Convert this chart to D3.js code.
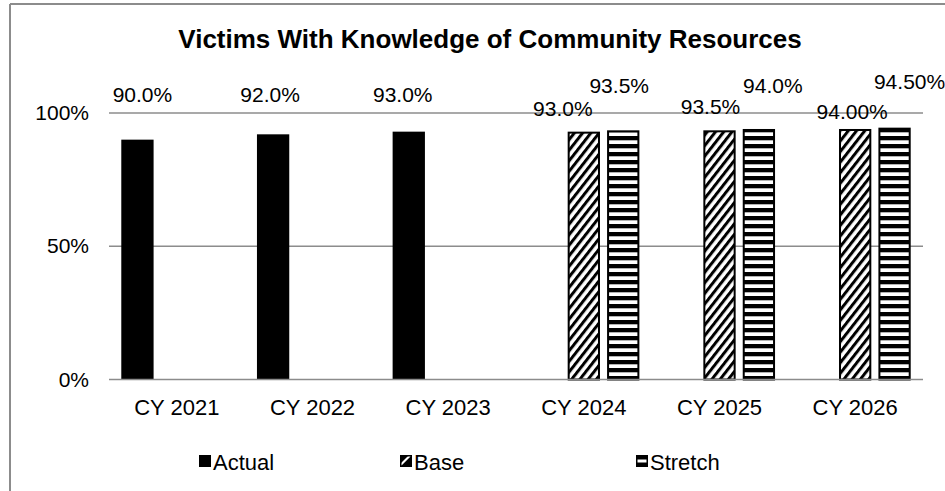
<!DOCTYPE html>
<html>
<head>
<meta charset="utf-8">
<script src="https://cdn.jsdelivr.net/npm/d3@7"></script>
<style>
  html, body { margin: 0; padding: 0; background: #fff; }
  svg { display: block; font-family: "Liberation Sans", Arial, sans-serif; }
</style>
</head>
<body>
<script>
// ---- data ----
const categories = ["CY 2021", "CY 2022", "CY 2023", "CY 2024", "CY 2025", "CY 2026"];
const seriesNames = ["Actual", "Base", "Stretch"];
const actualValues  = [90.0, 92.0, 93.0, null, null, null];
const baseValues    = [null, null, null, 93.0, 93.5, 94.0];
const stretchValues = [null, null, null, 93.5, 94.0, 94.5];
const actualDecimals  = [1, 1, 1, null, null, null];
const baseDecimals    = [null, null, null, 1, 1, 2];
const stretchDecimals = [null, null, null, 1, 1, 2];
const yTicks = [0, 50, 100];
const title = "Victims With Knowledge of Community Resources";

// label nudges (layout only): [dx, dy] from bar top-center, per series per category
const actualNudge  = [[5, -38], [-3, -32], [-6, -30], null, null, null];
const baseNudge    = [null, null, null, [-21, -16], [-9, -16], [-3, -10]];
const stretchNudge = [null, null, null, [-4, -37], [14, -36], [15, -39]];

const W = 945, H = 491;
const svg = d3.select("body").append("svg").attr("width", W).attr("height", H);

const defs = svg.append("defs");
const diag = defs.append("pattern").attr("id", "diag")
  .attr("patternUnits", "userSpaceOnUse").attr("width", 6.5).attr("height", 6.5)
  .attr("patternTransform", "rotate(38)");
diag.append("rect").attr("width", 6.5).attr("height", 6.5).attr("fill", "#fff");
diag.append("rect").attr("width", 3).attr("height", 6.5).attr("fill", "#000");

const horiz = defs.append("pattern").attr("id", "horiz")
  .attr("patternUnits", "userSpaceOnUse").attr("width", 8).attr("height", 8);
horiz.append("rect").attr("width", 8).attr("height", 8).attr("fill", "#fff");
horiz.append("rect").attr("y", 0).attr("width", 8).attr("height", 4.3).attr("fill", "#000");

const fills = { Actual: "#000", Base: "url(#diag)", Stretch: "url(#horiz)" };

// chart frame (partially visible)
svg.append("line").attr("x1", 10).attr("x2", 10).attr("y1", 4).attr("y2", H)
  .attr("stroke", "#8c8c8c").attr("stroke-width", 2);
svg.append("line").attr("x1", 10).attr("x2", W).attr("y1", 4).attr("y2", 4)
  .attr("stroke", "#8c8c8c").attr("stroke-width", 2);

// title
svg.append("text").attr("x", 490).attr("y", 48).attr("text-anchor", "middle")
  .attr("font-size", 26).attr("font-weight", "bold").attr("fill", "#000").text(title);

// scales
const x0 = d3.scaleBand().domain(categories).range([109, 923]).paddingInner(0).paddingOuter(0);
const x1 = d3.scaleBand().domain(seriesNames).range([0, x0.bandwidth()])
  .paddingInner(0.18).paddingOuter(0.312);
const y = d3.scaleLinear().domain([0, 100]).range([379.5, 113]);

// gridlines
svg.append("g").selectAll("line").data(yTicks.filter(t => t !== 0)).join("line")
  .attr("x1", 109).attr("x2", 923)
  .attr("y1", d => y(d)).attr("y2", d => y(d))
  .attr("stroke", "#8c8c8c").attr("stroke-width", 1.5);

// y axis labels
const yAxis = d3.axisLeft(y).tickValues(yTicks).tickFormat(d => d + "%").tickSize(0).tickPadding(20);
const gy = svg.append("g").attr("transform", "translate(109,0)").call(yAxis);
gy.select(".domain").remove();
gy.selectAll("text").attr("font-size", 21).attr("fill", "#000")
  .attr("font-family", "Liberation Sans, Arial, sans-serif");

// bars
const series = [
  { name: "Actual", values: actualValues, dec: actualDecimals, nudge: actualNudge },
  { name: "Base", values: baseValues, dec: baseDecimals, nudge: baseNudge },
  { name: "Stretch", values: stretchValues, dec: stretchDecimals, nudge: stretchNudge }
];
const barData = [];
series.forEach(s => s.values.forEach((v, i) => {
  if (v != null) barData.push({ s: s.name, cat: categories[i], v, dec: s.dec[i], nudge: s.nudge[i] });
}));

svg.append("g").selectAll("rect").data(barData).join("rect")
  .attr("x", d => x0(d.cat) + x1(d.s) + (d.s === "Actual" ? 0 : 1))
  .attr("width", d => x1.bandwidth() - (d.s === "Actual" ? 0 : 2))
  .attr("y", d => y(d.v) + (d.s === "Actual" ? 0 : 1))
  .attr("height", d => y(0) - y(d.v) - (d.s === "Actual" ? 0 : 1))
  .attr("fill", d => fills[d.s])
  .attr("stroke", d => d.s === "Actual" ? "none" : "#000")
  .attr("stroke-width", 2);

// x axis line
svg.append("line").attr("x1", 109).attr("x2", 923).attr("y1", y(0)).attr("y2", y(0))
  .attr("stroke", "#8c8c8c").attr("stroke-width", 1.5);

// x axis labels
const xAxis = d3.axisBottom(x0).tickSize(0).tickPadding(20);
const gx = svg.append("g").attr("transform", `translate(0,${y(0)})`).call(xAxis);
gx.select(".domain").remove();
gx.selectAll("text").attr("font-size", 22).attr("fill", "#000")
  .attr("font-family", "Liberation Sans, Arial, sans-serif");

// data labels
svg.append("g").selectAll("text").data(barData).join("text")
  .attr("x", d => x0(d.cat) + x1(d.s) + x1.bandwidth() / 2 + d.nudge[0])
  .attr("y", d => y(d.v) + d.nudge[1])
  .attr("text-anchor", "middle").attr("font-size", 21).attr("fill", "#000")
  .text(d => d.v.toFixed(d.dec) + "%");

// legend
const legendX = [199, 400, 636];
const lg = svg.append("g");
seriesNames.forEach((name, i) => {
  const g = lg.append("g").attr("transform", `translate(${legendX[i]},455)`);
  if (name === "Actual") {
    g.append("rect").attr("width", 12).attr("height", 12).attr("fill", "#000");
  } else if (name === "Base") {
    g.append("rect").attr("x", 0.75).attr("y", 0.75).attr("width", 10.5).attr("height", 10.5)
      .attr("fill", "#fff").attr("stroke", "#000").attr("stroke-width", 1.5);
    g.append("path").attr("d", "M1,11 L11,11 L11,1 Z M1,8 L8,1 L1,1 Z").attr("fill", "#000");
  } else {
    g.append("rect").attr("x", 0.75).attr("y", 0.75).attr("width", 10.5).attr("height", 10.5)
      .attr("fill", "#000").attr("stroke", "#000").attr("stroke-width", 1.5);
    g.append("rect").attr("x", 1.5).attr("y", 4.5).attr("width", 9).attr("height", 3).attr("fill", "#fff");
  }
  g.append("text").attr("x", 14).attr("y", 15).attr("font-size", 22).attr("fill", "#000").text(name);
});
</script>
</body>
</html>
